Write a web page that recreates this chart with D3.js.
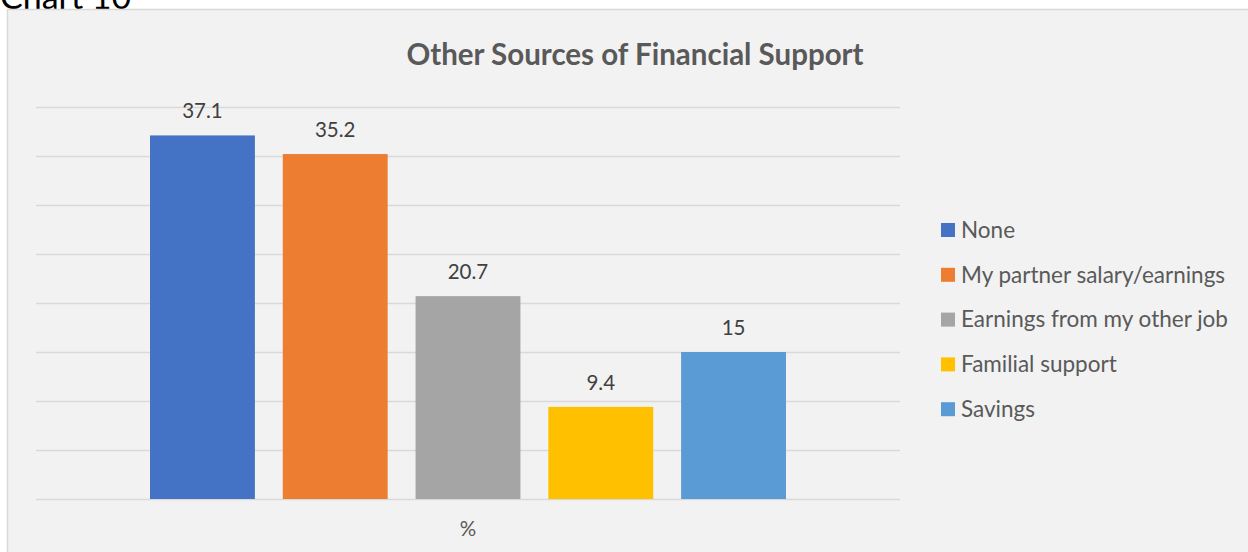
<!DOCTYPE html>
<html lang="en">
<head>
<meta charset="UTF-8">
<title>Other Sources of Financial Support</title>
<style>
  body { margin: 0; background: #fff; }
  text { font-family: Lato, "Open Sans", sans-serif; }
</style>
</head>
<body>
<script src="https://d3js.org/d3.v7.min.js"></script>
<script>
const categories = ["%"];
const seriesNames = ["None", "My partner salary/earnings", "Earnings from my other job", "Familial support", "Savings"];
const seriesValues = [37.1, 35.2, 20.7, 9.4, 15];
const seriesColors = ["#4472c4", "#ed7d31", "#a5a5a5", "#ffc000", "#5b9bd5"];
const yTicks = [0, 5, 10, 15, 20, 25, 30, 35, 40];

const width = 1248, height = 552;

const svg = d3.select("body").append("svg")
  .attr("width", width)
  .attr("height", height);

// page caption, mostly cut off at the top as in the source page
svg.append("text")
  .attr("x", 0).attr("y", 9)
  .attr("font-size", 34)
  .attr("fill", "#000")
  .text("Chart 10");

// chart area
svg.append("rect")
  .attr("x", 7.5).attr("y", 9.5)
  .attr("width", width + 10).attr("height", height + 10)
  .attr("fill", "#f2f2f2")
  .attr("stroke", "#d9d9d9")
  .attr("stroke-width", 1.5);

svg.append("text")
  .attr("x", 635).attr("y", 65)
  .attr("text-anchor", "middle")
  .attr("font-size", 29.5)
  .attr("font-weight", "bold")
  .attr("fill", "#595959")
  .text("Other Sources of Financial Support");

const plotLeft = 36, plotRight = 900;

const y = d3.scaleLinear().domain([0, 40]).range([499, 107]);

const x0 = d3.scaleBand().domain(categories).range([plotLeft, plotRight]);
const x1 = d3.scaleBand().domain(seriesNames)
  .range([150, 786]).paddingInner(0.21).paddingOuter(0);

// gridlines
svg.append("g")
  .attr("transform", `translate(${plotLeft},0)`)
  .call(d3.axisLeft(y).tickValues(yTicks).tickSize(-(plotRight - plotLeft)).tickFormat(""))
  .call(g => g.select(".domain").remove())
  .call(g => g.selectAll(".tick line").attr("stroke", "#d9d9d9").attr("stroke-width", 1.5));

// bars
const grp = svg.append("g");
grp.selectAll("rect")
  .data(seriesValues)
  .join("rect")
  .attr("x", (d, i) => x1(seriesNames[i]))
  .attr("y", d => y(d))
  .attr("width", x1.bandwidth())
  .attr("height", d => y(0) - y(d))
  .attr("fill", (d, i) => seriesColors[i]);

grp.selectAll("text")
  .data(seriesValues)
  .join("text")
  .attr("x", (d, i) => x1(seriesNames[i]) + x1.bandwidth() / 2)
  .attr("y", d => y(d) - 17)
  .attr("text-anchor", "middle")
  .attr("font-size", 20.5)
  .attr("fill", "#404040")
  .text(d => d);

// category axis label
svg.append("g")
  .attr("transform", `translate(0,${y(0)})`)
  .call(d3.axisBottom(x0).tickSize(0).tickPadding(22))
  .call(g => g.select(".domain").remove())
  .call(g => g.selectAll("text")
    .attr("font-size", 20.5)
    .attr("font-family", "Lato, sans-serif")
    .attr("fill", "#595959"));

// legend
const legend = svg.append("g").selectAll("g")
  .data(seriesNames)
  .join("g")
  .attr("transform", (d, i) => `translate(941,${230 + i * 44.8})`);

legend.append("rect")
  .attr("x", 0).attr("y", -7)
  .attr("width", 14).attr("height", 14)
  .attr("fill", (d, i) => seriesColors[i]);

legend.append("text")
  .attr("x", 20).attr("y", 0)
  .attr("dy", "0.35em")
  .attr("font-size", 22.5)
  .attr("fill", "#595959")
  .text(d => d);
</script>
</body>
</html>
